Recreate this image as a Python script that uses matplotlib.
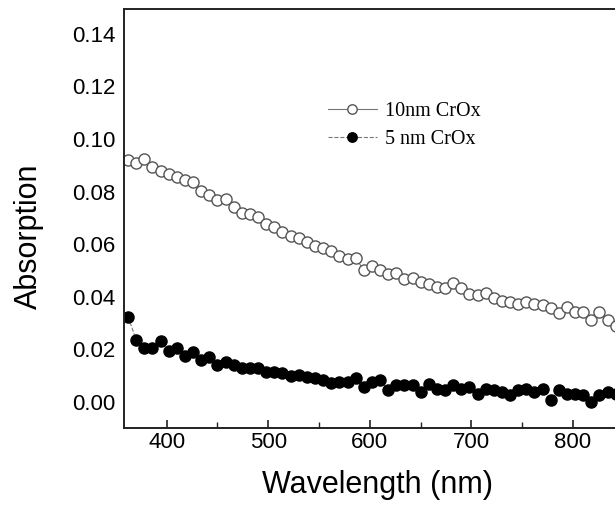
import numpy as np
import matplotlib.pyplot as plt
from matplotlib.ticker import MultipleLocator

# Wavelength grid (nm) shared by both films
wavelength = [362, 370, 378, 386, 394, 402, 410, 418, 426, 434,
              442, 450, 458, 466, 474, 482, 490, 498, 506, 514,
              522, 530, 538, 546, 554, 562, 570, 578, 586, 594,
              602, 610, 618, 626, 634, 642, 650, 658, 666, 674,
              682, 690, 698, 706, 714, 722, 730, 738, 746, 754,
              762, 770, 778, 786, 794, 802, 810, 818, 826, 834,
              842]

# 10 nm CrOx absorption
abs_10nm = [0.0920, 0.0908, 0.0923, 0.0892, 0.0878, 0.0867, 0.0854, 0.0844, 0.0838, 0.0803,
            0.0787, 0.0768, 0.0772, 0.0743, 0.0720, 0.0714, 0.0702, 0.0677, 0.0667, 0.0648,
            0.0629, 0.0622, 0.0607, 0.0591, 0.0584, 0.0572, 0.0555, 0.0543, 0.0546, 0.0502,
            0.0515, 0.0500, 0.0487, 0.0490, 0.0468, 0.0470, 0.0455, 0.0448, 0.0438, 0.0432,
            0.0451, 0.0432, 0.0411, 0.0407, 0.0413, 0.0394, 0.0385, 0.0381, 0.0371, 0.0378,
            0.0371, 0.0369, 0.0356, 0.0337, 0.0362, 0.0343, 0.0340, 0.0312, 0.0343, 0.0312,
            0.0290]

# 5 nm CrOx absorption
abs_5nm = [0.0324, 0.0236, 0.0204, 0.0204, 0.0233, 0.0195, 0.0204, 0.0175, 0.0191, 0.0160,
           0.0170, 0.0141, 0.0153, 0.0138, 0.0130, 0.0130, 0.0128, 0.0115, 0.0115, 0.0109,
           0.0099, 0.0103, 0.0094, 0.0090, 0.0084, 0.0073, 0.0077, 0.0077, 0.0090, 0.0058,
           0.0075, 0.0081, 0.0046, 0.0063, 0.0063, 0.0063, 0.0038, 0.0069, 0.0050, 0.0044,
           0.0063, 0.0050, 0.0056, 0.0031, 0.0050, 0.0044, 0.0038, 0.0025, 0.0044, 0.0050,
           0.0038, 0.0050, 0.0006, 0.0044, 0.0031, 0.0031, 0.0025, 0.0000, 0.0025, 0.0038,
           0.0031]

xticks = [400, 500, 600, 700, 800]
yticks = [0.00, 0.02, 0.04, 0.06, 0.08, 0.10, 0.12, 0.14]

plt.rcParams['font.family'] = ['Liberation Sans', 'DejaVu Sans']

fig = plt.figure(figsize=(6.15, 5.11), dpi=100)
# axes runs past the right edge of the figure, so the right spine is cut off
ax = fig.add_axes([0.2016, 0.1624, 0.8954, 0.82])

ax.plot(wavelength, abs_10nm, '-', color='#777777', lw=0.8,
        marker='o', ms=8, mfc='white', mec='#555555', mew=1.0,
        label='10nm CrOx')
ax.plot(wavelength, abs_5nm, '--', color='#777777', lw=0.8,
        marker='o', ms=8, mfc='black', mec='black', mew=1.0,
        label='5 nm CrOx')

ax.set_xlim(358, 900)
ax.set_ylim(-0.01, 0.1495)
ax.set_xticks(xticks)
ax.set_yticks(yticks)
ax.set_yticklabels([f'{v:.2f}' for v in yticks])
ax.xaxis.set_minor_locator(MultipleLocator(50))

ax.tick_params(axis='x', which='major', direction='in', length=6, width=1.2,
               labelsize=16, pad=3, color='#222222')
ax.tick_params(axis='x', which='minor', direction='in', length=4, width=1.0,
               color='#222222')
ax.tick_params(axis='y', direction='in', length=0, labelsize=16, pad=6)

for side in ['left', 'bottom', 'top', 'right']:
    ax.spines[side].set_linewidth(1.4)
    ax.spines[side].set_color('#222222')

ax.set_xlabel('Wavelength (nm)', fontsize=22)
ax.set_ylabel('Absorption', fontsize=22)
ax.xaxis.set_label_coords(0.46, -0.10)
ax.yaxis.set_label_coords(-0.145, 0.458)

leg = ax.legend(loc='upper left', bbox_to_anchor=(0.371, 0.778), frameon=False,
                prop={'family': 'Liberation Serif', 'size': 14.5},
                handlelength=2.4, handletextpad=0.4, labelspacing=0.45,
                borderpad=0, borderaxespad=0, markerscale=0.85)

fig.savefig('out.png', dpi=100)
